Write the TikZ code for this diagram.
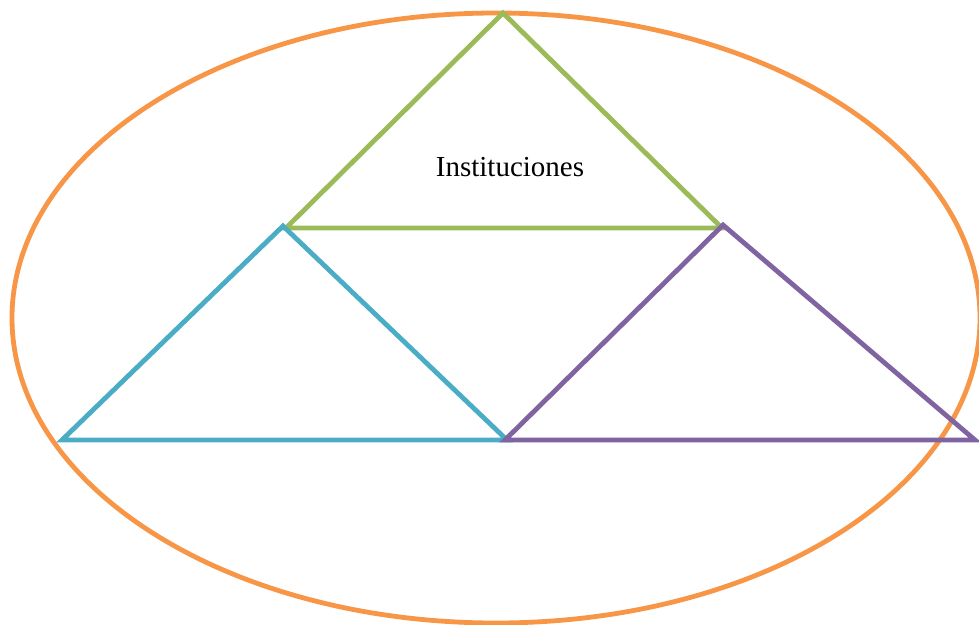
\documentclass[tikz,border=0pt]{standalone}
\usepackage{fontspec}
\setmainfont{Liberation Serif}
\definecolor{orangeline}{HTML}{F79646}
\definecolor{greenline}{HTML}{9BBB59}
\definecolor{blueline}{HTML}{4BACC6}
\definecolor{purpleline}{HTML}{8064A2}
\begin{document}
\begin{tikzpicture}[x=1pt,y=-1pt,
  edge/.style={line width=4.8pt,line join=miter},
  label/.style={font=\fontsize{29}{34}\selectfont,inner sep=0pt}]
\useasboundingbox (0,0) rectangle (979,624);
% outer ellipse
\draw[edge,orangeline] (496,318) ellipse [x radius=484,y radius=305];
% three triangles
\coordinate (gA) at (503,13);
\coordinate (gL) at (286,228);
\coordinate (gR) at (722,228);
\coordinate (bA) at (283,226);
\coordinate (bL) at (62,440);
\coordinate (bR) at (507,440);
\coordinate (pA) at (723,225);
\coordinate (pL) at (505,440);
\coordinate (pR) at (975,440);
\draw[edge,greenline] (gA) -- (gL) -- (gR) -- cycle;
\draw[edge,blueline] (bA) -- (bL) -- (bR) -- cycle;
\draw[edge,purpleline] (pA) -- (pL) -- (pR) -- cycle;
\node[label] (inst) at (510,167) {Instituciones};
\end{tikzpicture}
\end{document}
